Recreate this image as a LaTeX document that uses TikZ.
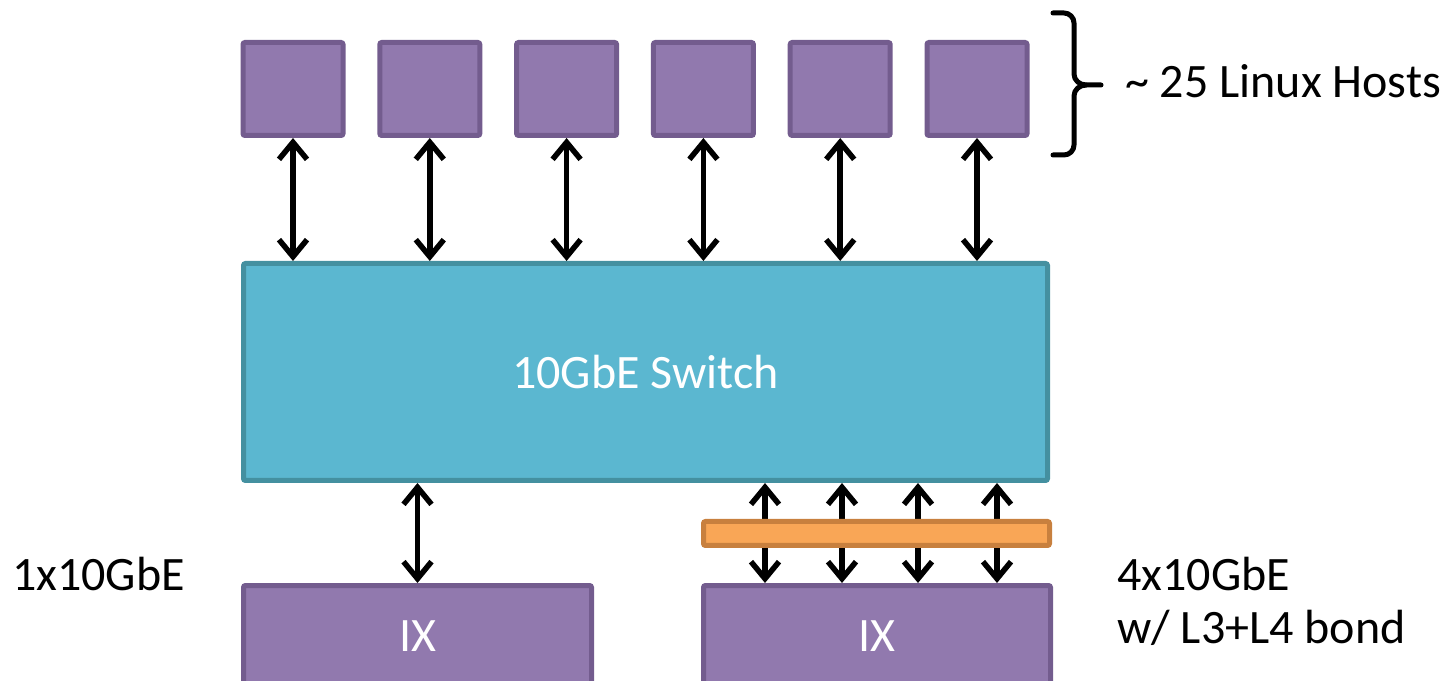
\documentclass[tikz,border=0pt]{standalone}
\usepackage{fontspec}
\setmainfont{Carlito}
\usetikzlibrary{arrows.meta,calc}
\definecolor{pfill}{HTML}{9179AE}
\definecolor{pdraw}{HTML}{735C8E}
\definecolor{tfill}{HTML}{5BB7D0}
\definecolor{tdraw}{HTML}{4490A0}
\definecolor{ofill}{HTML}{F9A656}
\definecolor{odraw}{HTML}{C8803E}
\tikzset{
  box/.style={line width=5pt, rounded corners=2pt, inner sep=0pt, text=white, font=\fontsize{48}{52}\selectfont},
  host/.style={box, fill=pfill, draw=pdraw, minimum width=100pt, minimum height=93pt},
  ixbox/.style={box, fill=pfill, draw=pdraw, minimum height=102pt},
  tip/.tip={Straight Barb[length=17pt,width=28pt,line width=5.5pt]},
  arr/.style={line width=5.5pt, tip-tip},
  lbl/.style={anchor=base west, inner sep=0pt, font=\fontsize{48}{52}\selectfont}
}
\begin{document}
\begin{tikzpicture}[x=1pt,y=1pt]
\useasboundingbox (0,0) rectangle (1450,680);
% hosts
\foreach \i/\x in {1/293,2/429.8,3/566.6,4/703.4,5/840.2,6/977}{
  \node[host] (h\i) at (\x,591) {};
}
% switch
\node[box, fill=tfill, draw=tdraw, minimum width=804pt, minimum height=217pt] (sw) at (645.5,308) {10GbE Switch};
% IX boxes
\node[ixbox, minimum width=348pt] (ix1) at (417.5,43.5) {IX};
\node[ixbox, minimum width=347pt] (ix2) at (877,43.5) {IX};
% host arrows
\foreach \i in {1,...,6}{
  \draw[arr] (h\i.south) -- (sw.north -| h\i.south);
}
% left IX arrow
\draw[arr] (sw.south -| ix1.north) -- (ix1.north);
% bonded arrows (the bond bar is drawn over their middles)
\foreach \x in {765,842,918,997}{
  \draw[arr] (sw.south -| \x,0) -- (ix2.north -| \x,0);
}
% bond bar
\node[box, fill=ofill, draw=odraw, minimum width=346pt, minimum height=24pt] (bond) at (876.5,146.5) {};
% brace
\draw[line width=5pt, line cap=round, line join=round]
  (1053,667) -- (1064,667) to[out=0,in=90] (1074,657) -- (1074,606)
  to[out=-90,in=180] (1086,595) -- (1101,595);
\draw[line width=5pt, line cap=round, line join=round]
  (1053,525) -- (1064,525) to[out=0,in=-90] (1074,535) -- (1074,584)
  to[out=90,in=180] (1086,595);
% labels
\node[lbl] (hosts) at (1125,582) {\textasciitilde{} 25 Linux Hosts};
\node[lbl] (l1) at (12,90) {1x10GbE};
\node[lbl] (l4) at (1117,90) {4x10GbE};
\node[lbl] (l4b) at (1117,37) {w/ L3+L4 bond};
\end{tikzpicture}
\end{document}
